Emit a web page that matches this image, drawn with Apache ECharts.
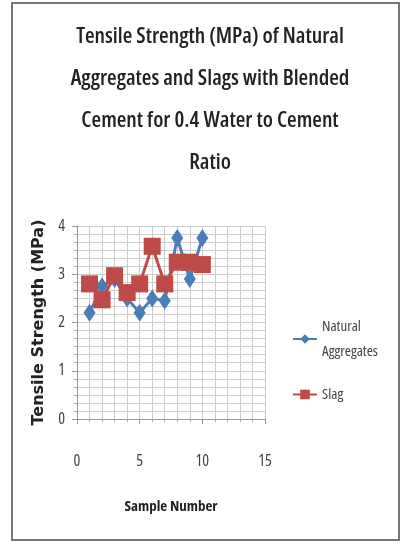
<!DOCTYPE html>
<html>
<head>
<meta charset="utf-8">
<script src="https://cdn.jsdelivr.net/npm/echarts@6/dist/echarts.min.js"></script>
<style>
  html, body { margin: 0; padding: 0; background: #fff; }
  #chart { width: 401px; height: 551px; }
</style>
</head>
<body>
<div id="chart"></div>
<script>
// sample numbers and tensile strength (MPa)
var samples = [1, 2, 3, 4, 5, 6, 7, 8, 9, 10];
var naturalAgg = [2.2, 2.75, 2.9, 2.5, 2.2, 2.5, 2.45, 3.75, 2.9, 3.75];
var slag = [2.8, 2.47, 2.97, 2.62, 2.8, 3.58, 2.8, 3.25, 3.25, 3.2];
var xTicks = [0, 5, 10, 15];
var yTicks = [0, 1, 2, 3, 4];

var font = '"Open Sans", sans-serif';

function pairs(xs, ys) {
  return xs.map(function (x, i) { return [x, ys[i]]; });
}

var chart = echarts.init(document.getElementById('chart'));
chart.setOption({
  animation: false,
  title: {
    text: 'Tensile Strength (MPa) of Natural\nAggregates and Slags with Blended\nCement for 0.4 Water to Cement\nRatio',
    left: 205,
    top: 11,
    textAlign: 'center',
    textStyle: { fontFamily: font, fontStyle: 'condensed', fontSize: 22, fontWeight: 600, color: '#222', lineHeight: 42 }
  },
  graphic: [{
    type: 'rect',
    shape: { x: 12, y: 3, width: 387, height: 537 },
    style: { fill: 'none', stroke: '#777', lineWidth: 2 }
  }],
  grid: { left: 77, right: 136, top: 226, bottom: 132 },
  legend: {
    orient: 'vertical',
    left: 287,
    top: 309,
    itemGap: 18,
    itemWidth: 24,
    itemHeight: 12,
    textStyle: { fontFamily: font, fontStyle: 'condensed', fontSize: 15, color: '#444', lineHeight: 25 },
    data: [{ name: 'Natural\nAggregates' }, { name: 'Slag' }]
  },
  xAxis: {
    type: 'value',
    min: 0, max: 15, interval: 5,
    name: 'Sample Number',
    nameLocation: 'middle',
    nameGap: 80,
    nameTextStyle: { fontFamily: font, fontStyle: 'condensed', fontSize: 15, fontWeight: 'bold', color: '#222' },
    axisLine: { lineStyle: { color: '#999' } },
    axisTick: { show: true, lineStyle: { color: '#999' } },
    axisLabel: { fontFamily: font, fontStyle: 'condensed', fontSize: 16, color: '#444', margin: 34,
      customValues: xTicks },
    splitLine: { lineStyle: { color: '#ccc' } },
    minorTick: { show: true, splitNumber: 5, length: 3, lineStyle: { color: '#aaa' } },
    minorSplitLine: { show: true, lineStyle: { color: '#ccc' } }
  },
  yAxis: {
    type: 'value',
    min: 0, max: 4, interval: 1,
    name: 'Tensile Strength (MPa)',
    nameLocation: 'middle',
    nameGap: 30,
    nameTextStyle: { fontFamily: 'DejaVu Sans, sans-serif', fontSize: 16, fontWeight: 'bold', color: '#222' },
    axisLine: { show: true, lineStyle: { color: '#999' } },
    axisTick: { show: true, lineStyle: { color: '#999' } },
    axisLabel: { fontFamily: font, fontStyle: 'condensed', fontSize: 16, color: '#444', margin: 12,
      customValues: yTicks },
    splitLine: { lineStyle: { color: '#ccc' } },
    minorTick: { show: true, splitNumber: 6, length: 3, lineStyle: { color: '#aaa' } },
    minorSplitLine: { show: true, lineStyle: { color: '#ccc' } }
  },
  series: [{
    name: 'Natural\nAggregates',
    type: 'line',
    data: pairs(samples, naturalAgg),
    symbol: 'diamond',
    symbolSize: [12, 18],
    color: '#4a7ebb',
    lineStyle: { width: 3, color: '#4a7ebb' },
    itemStyle: { color: '#4a7ebb' },
    z: 2
  }, {
    name: 'Slag',
    type: 'line',
    data: pairs(samples, slag),
    symbol: 'rect',
    symbolSize: 17,
    color: '#be4b48',
    lineStyle: { width: 3, color: '#be4b48' },
    itemStyle: { color: '#be4b48' },
    z: 3
  }]
});
</script>
</body>
</html>
